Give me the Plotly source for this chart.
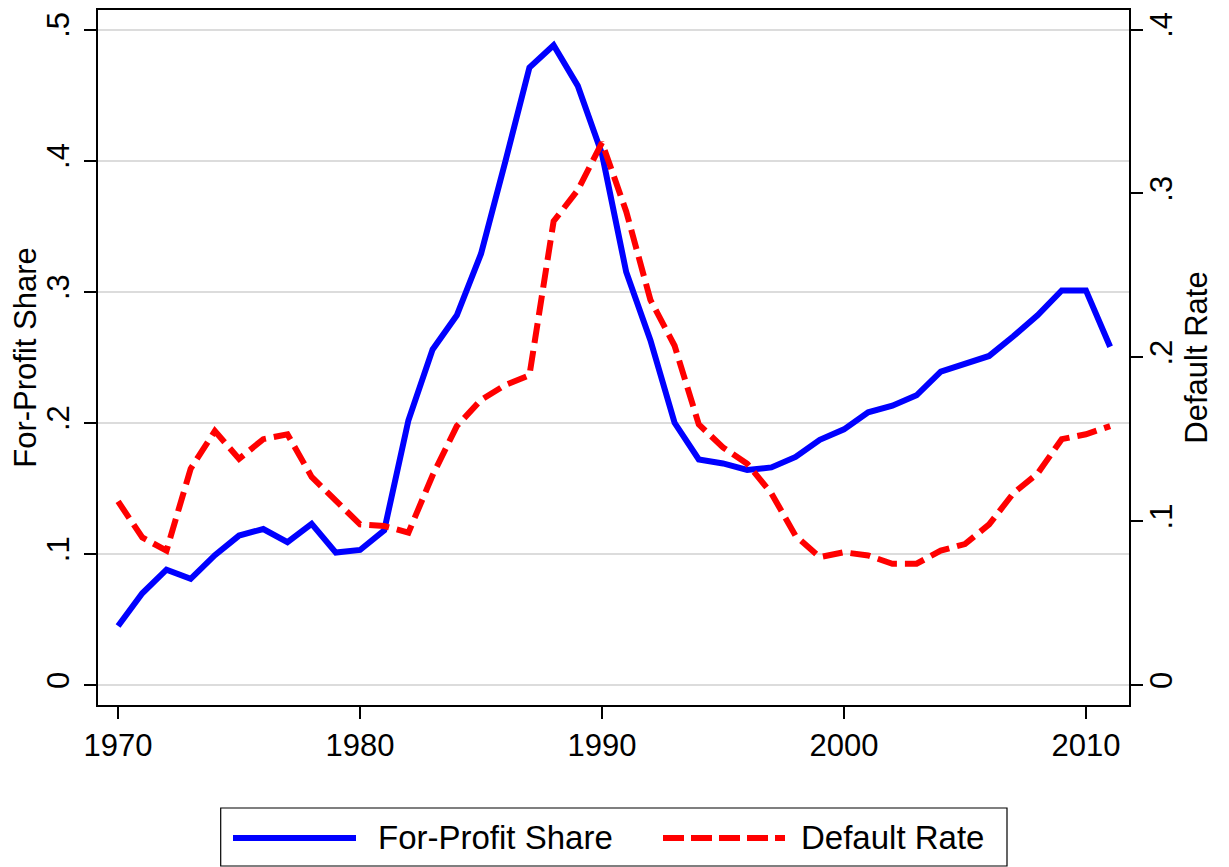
import plotly.graph_objects as go

years = list(range(1970, 2012))
for_profit_share = [0.045, 0.070, 0.088, 0.081, 0.099, 0.114, 0.119, 0.109, 0.123, 0.101,
                    0.103, 0.118, 0.202, 0.256, 0.282, 0.329, 0.399, 0.471, 0.488, 0.457,
                    0.405, 0.315, 0.263, 0.200, 0.172, 0.169, 0.164, 0.166, 0.174, 0.187,
                    0.195, 0.208, 0.213, 0.221, 0.239, 0.245, 0.251, 0.266, 0.282, 0.301,
                    0.301, 0.258]
default_rate = [0.112, 0.090, 0.082, 0.132, 0.155, 0.138, 0.150, 0.153, 0.127, 0.112,
                0.098, 0.097, 0.093, 0.128, 0.158, 0.174, 0.183, 0.189, 0.283, 0.302,
                0.331, 0.289, 0.235, 0.207, 0.159, 0.145, 0.135, 0.117, 0.091, 0.078,
                0.081, 0.079, 0.074, 0.074, 0.082, 0.086, 0.098, 0.117, 0.129, 0.150,
                0.153, 0.158]
left_ticks = [0, 0.1, 0.2, 0.3, 0.4, 0.5]
left_labels = ["0", ".1", ".2", ".3", ".4", ".5"]
right_ticks = [0, 0.1, 0.2, 0.3, 0.4]
right_labels = ["0", ".1", ".2", ".3", ".4"]
x_ticks = [1970, 1980, 1990, 2000, 2010]
series_names = ["For-Profit Share", "Default Rate"]
series_colors = ["#0000ff", "#ff0000"]
series_dash = ["solid", "21px,7px"]

FONT = "Liberation Sans, Arial, Helvetica, sans-serif"
W, H = 1221, 859
ML, MR, MT, MB = 90, 100, 2, 162
PW, PH = W - ML - MR, H - MT - MB


def px(xp):
    return (xp - ML) / PW


def py(yp):
    return (H - MB - yp) / PH


fig = go.Figure()
fig.add_trace(go.Scatter(x=years, y=for_profit_share, mode="lines", name=series_names[0],
                         line=dict(color=series_colors[0], width=6), yaxis="y",
                         showlegend=False))
fig.add_trace(go.Scatter(x=years, y=default_rate, mode="lines", name=series_names[1],
                         line=dict(color=series_colors[1], width=6, dash="20px,8px"),
                         yaxis="y2", showlegend=False))

# legend drawn as a box with sample lines and labels (Stata-style long keys)
shapes = [dict(type="rect", xref="paper", yref="paper",
               x0=px(212.7), x1=px(999), y0=py(858), y1=py(800),
               line=dict(color="black", width=1.2), fillcolor="white", layer="above")]
key_x = [(225, 348), (655, 777)]
text_x = [368, 791]
annotations = []
for i in range(2):
    shapes.append(dict(type="line", xref="paper", yref="paper",
                       x0=px(key_x[i][0]), x1=px(key_x[i][1]), y0=py(830), y1=py(830),
                       line=dict(color=series_colors[i], width=6, dash=series_dash[i]),
                       layer="above"))
    annotations.append(dict(text=series_names[i], xref="paper", yref="paper",
                            x=px(text_x[i]), y=py(830), xanchor="left", yanchor="middle",
                            showarrow=False, font=dict(size=33, color="black")))

fig.update_layout(
    width=W, height=H,
    margin=dict(l=ML, r=MR, t=MT, b=MB, autoexpand=False),
    paper_bgcolor="white", plot_bgcolor="white",
    font=dict(family=FONT, size=30, color="black"),
    showlegend=False,
    shapes=shapes, annotations=annotations,
    xaxis=dict(range=[1969.17, 2011.78], tickvals=x_ticks, ticks="outside", ticklen=12,
               tickwidth=2, tickcolor="black", showline=True, linecolor="black", linewidth=2,
               mirror=True, showgrid=False, zeroline=False, tickfont=dict(size=31)),
    yaxis=dict(range=[-0.01526, 0.5149], tickvals=left_ticks, ticktext=left_labels,
               tickangle=-90, ticks="outside", ticklen=12, tickwidth=2, tickcolor="black",
               showline=True, linecolor="black", linewidth=2, showgrid=True,
               gridcolor="#dcdcdc", gridwidth=2, zeroline=False, ticklabelstandoff=3,
               title=dict(text="For-Profit Share", font=dict(size=31), standoff=0),
               tickfont=dict(size=31)),
    yaxis2=dict(range=[-0.01221, 0.4119], tickvals=right_ticks, ticktext=right_labels,
                tickangle=-90, overlaying="y", side="right", ticks="outside", ticklen=12,
                tickwidth=2, tickcolor="black", showline=True, linecolor="black", linewidth=2,
                showgrid=False, zeroline=False, ticklabelstandoff=-8,
                title=dict(text="Default Rate", font=dict(size=31), standoff=0),
                tickfont=dict(size=31)),
)

fig.write_html("out.html")
